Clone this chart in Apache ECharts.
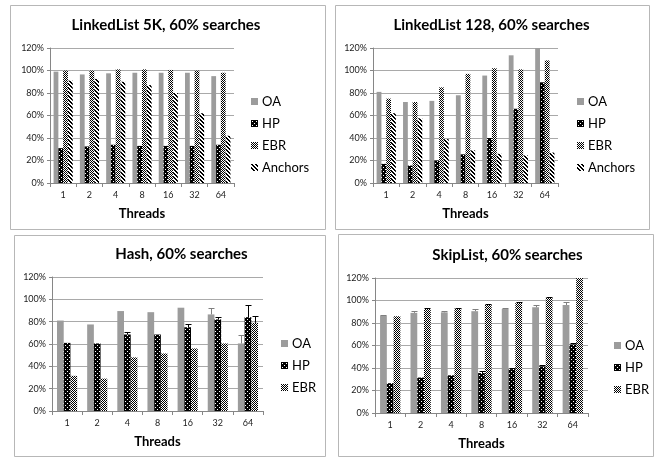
<!DOCTYPE html>
<html>
<head>
<meta charset="utf-8">
<script src="https://cdn.jsdelivr.net/npm/echarts@6/dist/echarts.min.js"></script>
<style>
html, body { margin: 0; padding: 0; background: #fff; }
#chart { width: 666px; height: 457px; }
</style>
</head>
<body>
<div id="chart"></div>
<script>
// Thread counts on the x axis
const threads = ['1', '2', '4', '8', '16', '32', '64'];
const yTicks = { min: 0, max: 120, step: 20 };

// LinkedList 5K, 60% searches (throughput relative, %)
const ll5kOA      = [99, 96.5, 97.5, 98, 98, 98, 95];
const ll5kHP      = [31, 32.5, 34, 33, 33, 33, 34];
const ll5kEBR     = [100, 100, 101, 101, 100.5, 100, 98];
const ll5kAnchors = [91, 92.5, 90, 87, 80, 62, 42];

// LinkedList 128, 60% searches
const ll128OA      = [81, 72, 73, 78, 95.5, 113.5, 121];
const ll128HP      = [17, 15.5, 20, 25.5, 40, 66, 89.5];
const ll128EBR     = [75, 72, 85, 97, 102, 101, 109];
const ll128Anchors = [62, 57.5, 39, 29, 26, 24.5, 27];

// Hash, 60% searches
const hashOA     = [81, 77.5, 89.5, 88.5, 92.5, 86.5, 60.5];
const hashHP     = [61, 60.5, 68.5, 68.5, 75, 82, 84];
const hashEBR    = [31.5, 29, 48, 51.5, 56, 60.5, 79];
const hashOAErr  = [0, 0, 0, 0, 0, 6, 8];
const hashHPErr  = [0, 0, 2, 0, 3, 2, 10.5];
const hashEBRErr = [0, 0, 0, 0, 0, 0, 6];

// SkipList, 60% searches
const skipOA     = [86.5, 89, 89.5, 90.5, 92.5, 94, 96];
const skipHP     = [26.5, 31.5, 33.5, 35.5, 39, 41.5, 61];
const skipEBR    = [86, 92.5, 93, 96, 98, 102.5, 120];
const skipOAErr  = [0.5, 2, 1.5, 2, 1, 2, 3];
const skipHPErr  = [0, 0, 0, 2, 1, 1, 1.5];
const skipEBRErr = [0, 0.5, 0.5, 0.5, 0.5, 0.5, 0];

// ---------- fill patterns ----------
function makePattern(w, h, isDark) {
  const c = document.createElement('canvas');
  c.width = w; c.height = h;
  const ctx = c.getContext('2d');
  const img = ctx.createImageData(w, h);
  for (let y = 0; y < h; y++) {
    for (let x = 0; x < w; x++) {
      const v = isDark(x, y) ? 0 : 255;
      const k = (y * w + x) * 4;
      img.data[k] = v; img.data[k + 1] = v; img.data[k + 2] = v; img.data[k + 3] = 255;
    }
  }
  ctx.putImageData(img, 0, 0);
  return { image: c, repeat: 'repeat' };
}
const OA_COLOR = '#9c9c9c';
const hpFill = makePattern(4, 4, (x, y) => !((x === 1 && y === 1) || (x === 3 && y === 3)));
const ebrFill = makePattern(4, 4, (x, y) => ((x + y) % 4 === 0) || (((x - y) % 4 + 4) % 4 === 0) || ((x + y) % 4 === 2 && x % 2 === 0));
const anchorsFill = makePattern(4, 4, (x, y) => (((x - y) % 4 + 4) % 4) < 2);

const FONT = 'Lato, "Open Sans", sans-serif';

// ---------- panel geometry ----------
const panels = [
  { title: 'LinkedList 5K, 60% searches', box: [10, 5, 315, 224], grid: { left: 50, top: 48, width: 184, height: 135 },
    legend: { left: 251, top: 94 },
    series: [['OA', ll5kOA, OA_COLOR], ['HP', ll5kHP, hpFill], ['EBR', ll5kEBR, ebrFill], ['Anchors', ll5kAnchors, anchorsFill]],
    errs: [] },
  { title: 'LinkedList 128, 60% searches', box: [335, 5, 314, 224], grid: { left: 373, top: 48, width: 185, height: 135 },
    legend: { left: 577, top: 94 },
    series: [['OA', ll128OA, OA_COLOR], ['HP', ll128HP, hpFill], ['EBR', ll128EBR, ebrFill], ['Anchors', ll128Anchors, anchorsFill]],
    errs: [] },
  { title: 'Hash, 60% searches', box: [14, 235, 311, 221], grid: { left: 52, top: 277, width: 211, height: 134 },
    legend: { left: 281, top: 336 },
    series: [['OA', hashOA, OA_COLOR], ['HP', hashHP, hpFill], ['EBR', hashEBR, ebrFill]],
    errs: [[hashOA, hashOAErr, 0, '#7f7f7f'], [hashHP, hashHPErr, 1, '#000'], [hashEBR, hashEBRErr, 2, '#000']] },
  { title: 'SkipList, 60% searches', box: [338, 234, 315, 222], grid: { left: 375, top: 278, width: 213, height: 135 },
    legend: { left: 614, top: 338 },
    series: [['OA', skipOA, OA_COLOR], ['HP', skipHP, hpFill], ['EBR', skipEBR, ebrFill]],
    errs: [[skipOA, skipOAErr, 0, '#7f7f7f'], [skipHP, skipHPErr, 1, '#000'], [skipEBR, skipEBRErr, 2, '#000']] }
];

function errorBars(gridIdx, values, errs, slot, nSlots, gap, color) {
  return {
    type: 'custom', xAxisIndex: gridIdx, yAxisIndex: gridIdx, z: 5, silent: true,
    data: values.map((v, i) => [i, v, errs[i]]),
    renderItem(params, api) {
      const e = api.value(2);
      if (!e) return null;
      const base = api.coord([api.value(0), api.value(1)]);
      const top = api.coord([api.value(0), api.value(1) + e]);
      const band = api.size([1, 0])[0];
      const total = band * (1 - gap);
      const bw = total / nSlots;
      const x = Math.round(base[0] - total / 2 + bw * (slot + 0.5)) + 0.5;
      const yt = Math.round(top[1]) + 0.5;
      return {
        type: 'group',
        children: [
          { type: 'line', shape: { x1: x, y1: base[1], x2: x, y2: yt }, style: { stroke: color, lineWidth: 1 } },
          { type: 'line', shape: { x1: x - 3, y1: yt, x2: x + 3, y2: yt }, style: { stroke: color, lineWidth: 1 } }
        ]
      };
    }
  };
}

const option = {
  animation: false,
  textStyle: { fontFamily: FONT },
  grid: [], xAxis: [], yAxis: [], legend: [], series: [], graphic: []
};

panels.forEach((p, gi) => {
  const n = p.series.length;
  const gap = 1.5 / (n + 1.5);
  option.grid.push(p.grid);
  option.xAxis.push({
    type: 'category', gridIndex: gi, data: threads,
    name: 'Threads', nameLocation: 'middle', nameGap: 24,
    nameTextStyle: { fontFamily: FONT, fontWeight: 'bold', fontSize: 13, color: '#000' },
    axisLine: { lineStyle: { color: '#868686' } },
    axisTick: { show: true, length: 4, lineStyle: { color: '#868686' } },
    axisLabel: { fontFamily: FONT, fontSize: 9, color: '#222', margin: 8 }
  });
  option.yAxis.push({
    type: 'value', gridIndex: gi, min: yTicks.min, max: yTicks.max, interval: yTicks.step,
    axisLine: { show: true, lineStyle: { color: '#868686' } },
    axisTick: { show: true, length: 3, lineStyle: { color: '#868686' } },
    splitLine: { lineStyle: { color: '#a9a9a9' } },
    axisLabel: { fontFamily: FONT, fontSize: 9, color: '#222', margin: 6, formatter: '{value}%' }
  });
  option.legend.push({
    orient: 'vertical', left: p.legend.left, top: p.legend.top,
    itemWidth: 7, itemHeight: 7, itemGap: 7, padding: 0,
    icon: 'rect', selectedMode: false,
    data: p.series.map(s => s[0]),
    textStyle: { fontFamily: FONT, fontSize: 13, color: '#000', lineHeight: 15, padding: [0, 0, 0, -1] }
  });
  p.series.forEach(s => {
    option.series.push({
      type: 'bar', name: s[0], xAxisIndex: gi, yAxisIndex: gi, data: s[1],
      barGap: '0%', barCategoryGap: (gap * 100).toFixed(1) + '%',
      itemStyle: { color: s[2] }
    });
  });
  p.errs.forEach(e => option.series.push(errorBars(gi, e[0], e[1], e[2], n, gap, e[3])));
  option.graphic.push({
    type: 'rect', silent: true, z: -1,
    shape: { x: p.box[0] + 0.5, y: p.box[1] + 0.5, width: p.box[2], height: p.box[3] },
    style: { fill: '#fff', stroke: '#b7b7b7', lineWidth: 1 }
  });
  option.graphic.push({
    type: 'text', silent: true,
    x: p.grid.left + p.grid.width / 2 + (gi % 2 === 0 ? 24 : 26), y: p.grid.top - 23,
    style: { text: p.title, fontFamily: FONT, fontWeight: 'bold', fontSize: 15, fill: '#000', align: 'center', verticalAlign: 'middle' }
  });
});

const chart = echarts.init(document.getElementById('chart'), null, { renderer: 'canvas' });
chart.setOption(option);
</script>
</body>
</html>
